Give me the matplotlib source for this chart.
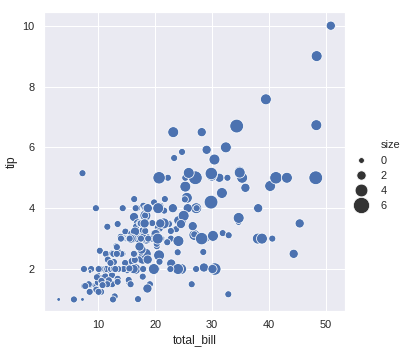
import matplotlib
matplotlib.use("Agg")
import matplotlib.pyplot as plt
from matplotlib.lines import Line2D
import numpy as np
import seaborn as sns

# tips dataset: total_bill, tip, party size
total_bill = [16.99, 10.34, 21.01, 23.68, 24.59, 25.29, 8.77, 26.88, 15.04, 14.78,
              10.27, 35.26, 15.42, 18.43, 14.83, 21.58, 10.33, 16.29, 16.97, 20.65,
              17.92, 20.29, 15.77, 39.42, 19.82, 17.81, 13.37, 12.69, 21.7, 19.65,
              9.55, 18.35, 15.06, 20.69, 17.78, 24.06, 16.31, 16.93, 18.69, 31.27,
              16.04, 17.46, 13.94, 9.68, 30.4, 18.29, 22.23, 32.4, 28.55, 18.04,
              12.54, 10.29, 34.81, 9.94, 25.56, 19.49, 38.01, 26.41, 11.24, 48.27,
              20.29, 13.81, 11.02, 18.29, 17.59, 20.08, 16.45, 3.07, 20.23, 15.01,
              12.02, 17.07, 26.86, 25.28, 14.73, 10.51, 17.92, 27.2, 22.76, 17.29,
              19.44, 16.66, 10.07, 32.68, 15.98, 34.83, 13.03, 18.28, 24.71, 21.16,
              28.97, 22.49, 5.75, 16.32, 22.75, 40.17, 27.28, 12.03, 21.01, 12.46,
              11.35, 15.38, 44.3, 22.42, 20.92, 15.36, 20.49, 25.21, 18.24, 14.31,
              14.0, 7.25, 38.07, 23.95, 25.71, 17.31, 29.93, 10.65, 12.43, 24.08,
              11.69, 13.42, 14.26, 15.95, 12.48, 29.8, 8.52, 14.52, 11.38, 22.82,
              19.08, 20.27, 11.17, 12.26, 18.26, 8.51, 10.33, 14.15, 16.0, 13.16,
              17.47, 34.3, 41.19, 27.05, 16.43, 8.35, 18.64, 11.87, 9.78, 7.51,
              14.07, 13.13, 17.26, 24.55, 19.77, 29.85, 48.17, 25.0, 13.39, 16.49,
              21.5, 12.66, 16.21, 13.81, 17.51, 24.52, 20.76, 31.71, 10.59, 10.63,
              50.81, 15.81, 7.25, 31.85, 16.82, 32.9, 17.89, 14.48, 9.6, 34.63,
              34.65, 23.33, 45.35, 23.17, 40.55, 20.69, 20.9, 30.46, 18.15, 23.1,
              15.69, 19.81, 28.44, 15.48, 16.58, 7.56, 10.34, 43.11, 13.0, 13.51,
              18.71, 12.74, 13.0, 16.4, 20.53, 16.47, 26.59, 38.73, 24.27, 12.76,
              30.06, 25.89, 48.33, 13.27, 28.17, 12.9, 28.15, 11.59, 7.74, 30.14,
              12.16, 13.42, 8.58, 15.98, 13.42, 16.27, 10.09, 20.45, 13.28, 22.12,
              24.01, 15.69, 11.61, 10.77, 15.53, 10.07, 12.6, 32.83, 35.83, 29.03,
              27.18, 22.67, 17.82, 18.78]
tip = [1.01, 1.66, 3.5, 3.31, 3.61, 4.71, 2.0, 3.12, 1.96, 3.23,
       1.71, 5.0, 1.57, 3.0, 3.02, 3.92, 1.67, 3.71, 3.5, 3.35,
       4.08, 2.75, 2.23, 7.58, 3.18, 2.34, 2.0, 2.0, 4.3, 3.0,
       1.45, 2.5, 3.0, 2.45, 3.27, 3.6, 2.0, 3.07, 2.31, 5.0,
       2.24, 2.54, 3.06, 1.32, 5.6, 3.0, 5.0, 6.0, 2.05, 3.0,
       2.5, 2.6, 5.2, 1.56, 4.34, 3.51, 3.0, 1.5, 1.76, 6.73,
       3.21, 2.0, 1.98, 3.76, 2.64, 3.15, 2.47, 1.0, 2.01, 2.09,
       1.97, 3.0, 3.14, 5.0, 2.2, 1.25, 3.08, 4.0, 3.0, 2.71,
       3.0, 3.4, 1.83, 5.0, 2.03, 5.17, 2.0, 4.0, 5.85, 3.0,
       3.0, 3.5, 1.0, 4.3, 3.25, 4.73, 4.0, 1.5, 3.0, 1.5,
       2.5, 3.0, 2.5, 3.48, 4.08, 1.64, 4.06, 4.29, 3.76, 4.0,
       3.0, 1.0, 4.0, 2.55, 4.0, 3.5, 5.07, 1.5, 1.8, 2.92,
       2.31, 1.68, 2.5, 2.0, 2.52, 4.2, 1.48, 2.0, 2.0, 2.18,
       1.5, 2.83, 1.5, 2.0, 3.25, 1.25, 2.0, 2.0, 2.0, 2.75,
       3.5, 6.7, 5.0, 5.0, 2.3, 1.5, 1.36, 1.63, 1.73, 2.0,
       2.5, 2.0, 2.74, 2.0, 2.0, 5.14, 5.0, 3.75, 2.61, 2.0,
       3.5, 2.5, 2.0, 2.0, 3.0, 3.48, 2.24, 4.5, 1.61, 2.0,
       10.0, 3.16, 5.15, 3.18, 4.0, 3.11, 2.0, 2.0, 4.0, 3.55,
       3.68, 5.65, 3.5, 6.5, 3.0, 5.0, 3.5, 2.0, 3.5, 4.0,
       1.5, 4.19, 2.56, 2.02, 4.0, 1.44, 2.0, 5.0, 2.0, 2.0,
       4.0, 2.01, 2.0, 2.5, 4.0, 3.23, 3.41, 3.0, 2.03, 2.23,
       2.0, 5.16, 9.0, 2.5, 6.5, 1.1, 3.0, 1.5, 1.44, 3.09,
       2.2, 3.48, 1.92, 3.0, 1.58, 2.5, 2.0, 3.0, 2.72, 2.88,
       2.0, 3.0, 3.39, 1.47, 3.0, 1.25, 1.0, 1.17, 4.67, 5.92,
       2.0, 2.0, 1.75, 3.0]
size = [2, 3, 3, 2, 4, 4, 2, 4, 2, 2,
        2, 4, 2, 4, 2, 2, 3, 3, 3, 3,
        2, 2, 2, 4, 2, 4, 2, 2, 2, 2,
        2, 4, 2, 4, 2, 3, 3, 3, 3, 3,
        3, 2, 2, 2, 4, 2, 2, 4, 3, 2,
        2, 2, 4, 2, 4, 2, 4, 2, 2, 4,
        2, 2, 2, 4, 3, 3, 2, 1, 2, 2,
        2, 3, 2, 2, 2, 2, 2, 4, 2, 2,
        2, 2, 1, 2, 2, 4, 2, 2, 2, 2,
        2, 2, 2, 2, 2, 4, 2, 2, 2, 2,
        2, 2, 3, 2, 2, 2, 2, 2, 2, 2,
        2, 1, 3, 2, 3, 2, 4, 2, 2, 4,
        2, 2, 2, 2, 2, 6, 2, 2, 2, 3,
        2, 2, 2, 2, 2, 2, 2, 2, 2, 2,
        2, 6, 5, 6, 2, 2, 3, 2, 2, 2,
        2, 2, 3, 4, 4, 5, 6, 4, 2, 4,
        4, 2, 3, 2, 2, 3, 2, 4, 2, 2,
        3, 2, 2, 2, 2, 2, 2, 2, 2, 2,
        4, 2, 3, 4, 2, 5, 3, 5, 3, 3,
        2, 2, 2, 2, 2, 2, 2, 4, 2, 2,
        3, 2, 2, 2, 4, 3, 3, 4, 2, 2,
        3, 4, 4, 2, 3, 2, 5, 2, 2, 4,
        2, 2, 1, 3, 2, 2, 2, 4, 2, 2,
        4, 3, 2, 2, 2, 2, 2, 2, 3, 3,
        2, 2, 2, 2]
legend_levels = [0, 2, 4, 6]

sns.set_theme(style="darkgrid")
plt.rcParams["font.family"] = ["Liberation Sans", "DejaVu Sans"]

# size mapping: marker area linear in party size over the data range
smin, smax = 14.0, 189.0
lo, hi = min(size), max(size)
def area(v):
    return smin + (np.asarray(v, dtype=float) - lo) / (hi - lo) * (smax - smin)

# legend markers grow roughly linearly in diameter
def legend_area(v):
    return (5.75 + 1.75 * v) ** 2

fig = plt.figure(figsize=(409 / 72, 352 / 72), dpi=72)
ax = fig.add_axes([44 / 409, 1 - 311 / 352, 301 / 409, 299 / 352])

ax.scatter(total_bill, tip, s=area(size), color="#4C72B0",
           edgecolor="white", linewidth=0.75, zorder=2)
ax.set_xlim(0.5, 53.3)
ax.set_ylim(0.62, 10.45)
ax.set_xticks([10, 20, 30, 40, 50])
ax.set_yticks([2, 4, 6, 8, 10])
ax.set_xlabel("total_bill", fontsize=12)
ax.set_ylabel("tip", fontsize=12)
ax.tick_params(labelsize=11)

# legend, with the variable name as a first entry without handle
handles = [Line2D([], [], linestyle="", marker="")]
handles += [ax.scatter([], [], s=legend_area(v), color=".2", edgecolor="white",
                       linewidth=0.75) for v in legend_levels]
labels = ["size"] + [str(v) for v in legend_levels]
leg = fig.legend(handles, labels, loc="center left",
                 bbox_to_anchor=(0.831, 0.5006), frameon=False, fontsize=11,
                 scatterpoints=1, scatteryoffsets=[0.5], labelspacing=0.47)

fig.savefig("out.png", dpi=72)
